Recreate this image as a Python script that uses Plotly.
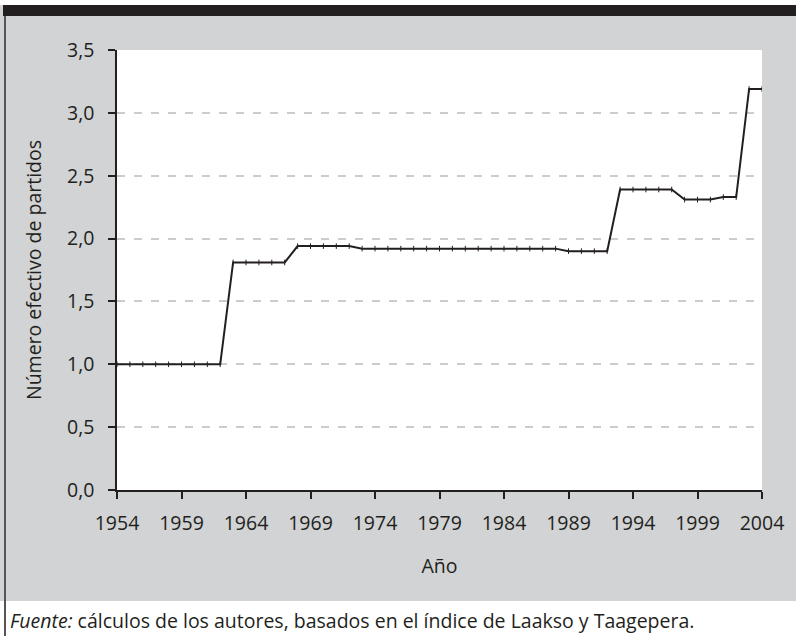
"""
Número efectivo de partidos, 1954-2004 (índice de Laakso y Taagepera).
"""
import plotly.graph_objects as go

years = list(range(1954, 2005))
nep = (
    [1.00] * 9            # 1954-1962
    + [1.81] * 5          # 1963-1967
    + [1.94] * 5          # 1968-1972
    + [1.92] * 16         # 1973-1988
    + [1.90] * 4          # 1989-1992
    + [2.39] * 5          # 1993-1997
    + [2.31] * 3          # 1998-2000
    + [2.33] * 2          # 2001-2002
    + [3.19] * 2          # 2003-2004
)

x_ticks = list(range(1954, 2005, 5))
y_ticks = [0, 0.5, 1.0, 1.5, 2.0, 2.5, 3.0, 3.5]

W, H = 796, 636
L, R, T, B = 117, 34, 50, 146
PW, PH = W - L - R, H - T - B

INK = "#231f20"
GRAY = "#d1d3d4"
FONT = "Open Sans, Noto Sans, sans-serif"
FS = 19.5


def px(x):
    return (x - L) / PW


def py(y):
    return (H - B - y) / PH


def build_chart() -> go.Figure:
    fig = go.Figure()

    fig.add_trace(go.Scatter(
        x=years,
        y=nep,
        mode="lines+markers",
        line=dict(color=INK, width=2),
        marker=dict(symbol="line-ns", size=4, line=dict(color=INK, width=1)),
        hovertemplate="%{x}<br>%{y:.2f}<extra></extra>",
    ))

    shapes = [
        # white strip + black bar at top
        dict(type="rect", xref="paper", yref="paper", x0=px(0), x1=px(W),
             y0=py(5), y1=py(0), fillcolor="white", line_width=0, layer="below"),
        dict(type="rect", xref="paper", yref="paper", x0=px(3), x1=px(W),
             y0=py(16), y1=py(5), fillcolor=INK, line_width=0, layer="below"),
        # white footer
        dict(type="rect", xref="paper", yref="paper", x0=px(0), x1=px(W),
             y0=py(H), y1=py(601), fillcolor="white", line_width=0, layer="below"),
        # left border
        dict(type="line", xref="paper", yref="paper", x0=px(5), x1=px(5),
             y0=py(H), y1=py(16), line=dict(color="#555555", width=2), layer="below"),
    ]

    fig.update_layout(
        width=W,
        height=H,
        margin=dict(l=L, r=R, t=T, b=B, pad=0),
        paper_bgcolor=GRAY,
        plot_bgcolor="white",
        separators=",.",
        showlegend=False,
        font=dict(family=FONT, size=FS, color=INK),
        shapes=shapes,
        xaxis=dict(
            range=[1954, 2004],
            tickvals=x_ticks,
            ticks="outside",
            ticklen=7,
            tickwidth=1.5,
            tickcolor=INK,
            showline=True,
            linecolor=INK,
            linewidth=1.5,
            showgrid=False,
            zeroline=False,
            ticklabelstandoff=8,
            title=dict(text="Año", standoff=24, font=dict(size=FS)),
        ),
        yaxis=dict(
            range=[0, 3.5],
            tickvals=y_ticks,
            tickformat=".1f",
            ticks="outside",
            ticklen=7,
            tickwidth=1.5,
            tickcolor=INK,
            showline=True,
            linecolor=INK,
            linewidth=1.5,
            showgrid=True,
            gridcolor="#cccccc",
            gridwidth=1.5,
            griddash="8px,9px",
            zeroline=False,
            ticklabelstandoff=10,
            title=dict(text="Número efectivo de partidos", standoff=20,
                       font=dict(size=FS)),
        ),
        annotations=[
            dict(
                text="<i>Fuente:</i> cálculos de los autores, basados en el índice de Laakso y Taagepera.",
                xref="paper", yref="paper", x=px(8), y=py(620),
                xanchor="left", yanchor="middle", showarrow=False,
                font=dict(family=FONT, size=FS, color=INK),
            )
        ],
    )

    return fig


if __name__ == "__main__":
    fig = build_chart()
    fig.write_html(
        "out.html",
        config={"displayModeBar": False},
        post_script="document.body.style.margin='0';document.body.style.padding='0';",
    )
